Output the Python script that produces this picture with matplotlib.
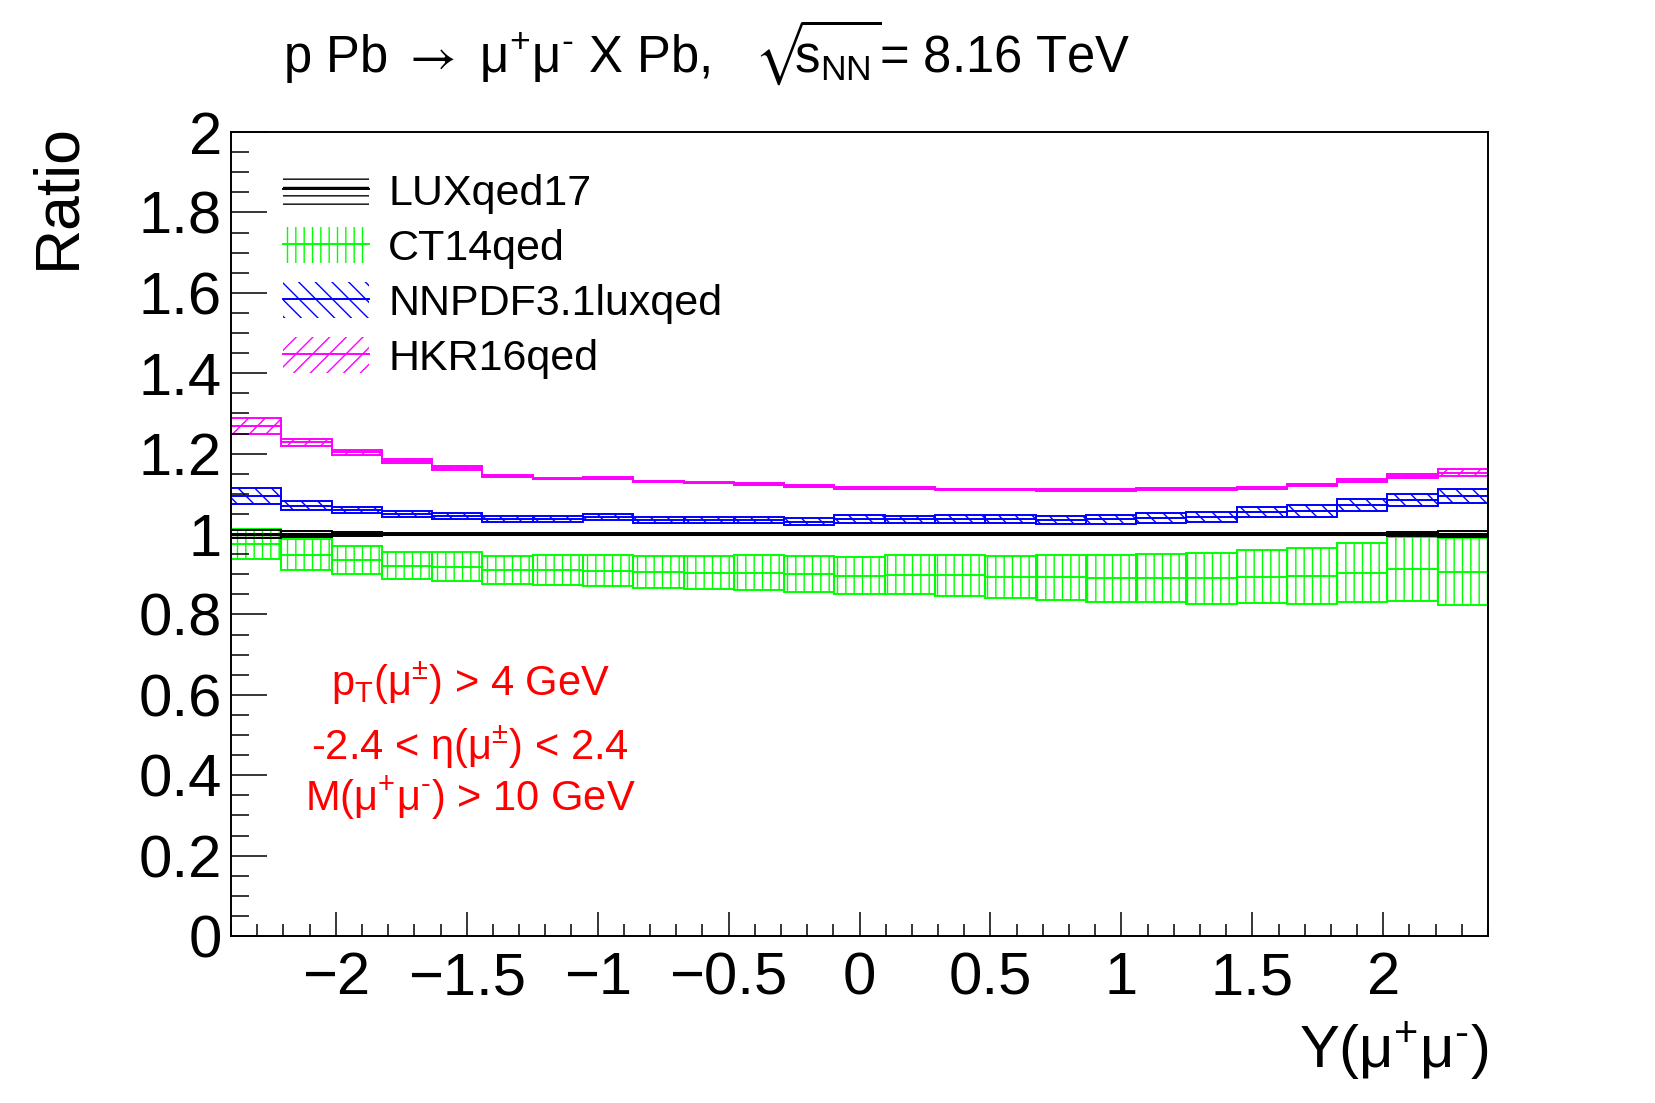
import numpy as np
import matplotlib
matplotlib.use("Agg")
from matplotlib import pyplot as plt
from matplotlib.patches import Patch
from matplotlib.lines import Line2D
from matplotlib.ticker import MultipleLocator, FuncFormatter

plt.rcParams["font.family"] = ["Liberation Sans", "DejaVu Sans"]
plt.rcParams["mathtext.fontset"] = "custom"
plt.rcParams["mathtext.rm"] = "Liberation Sans"
plt.rcParams["mathtext.it"] = "Liberation Sans:italic"
plt.rcParams["mathtext.bf"] = "Liberation Sans:bold"
plt.rcParams["mathtext.sf"] = "STIXGeneral"
plt.rcParams["mathtext.fallback"] = "stixsans"
plt.rcParams["hatch.linewidth"] = 1.0

# 25 rapidity bins between -2.4 and 2.4
edges = np.linspace(-2.4, 2.4, 26)

lux_ratio = [1.0] * 25
lux_err = [0.010, 0.0075, 0.0055, 0.0035, 0.002, 0.002, 0.002, 0.002, 0.002, 0.002,
           0.002, 0.002, 0.002, 0.002, 0.002, 0.002, 0.002, 0.002, 0.002, 0.002,
           0.002, 0.0025, 0.003, 0.004, 0.0075]

ct14_ratio = [0.975, 0.949, 0.935, 0.921, 0.919, 0.910, 0.910, 0.909, 0.905, 0.904,
              0.904, 0.901, 0.896, 0.899, 0.897, 0.894, 0.892, 0.890, 0.890, 0.890,
              0.894, 0.896, 0.904, 0.913, 0.906]
ct14_err = [0.037, 0.038, 0.035, 0.034, 0.036, 0.035, 0.037, 0.039, 0.040, 0.041,
            0.043, 0.045, 0.046, 0.049, 0.051, 0.052, 0.055, 0.058, 0.060, 0.063,
            0.066, 0.069, 0.073, 0.079, 0.083]

nnpdf_ratio = [1.095, 1.070, 1.060, 1.050, 1.044, 1.037, 1.037, 1.043, 1.035, 1.034,
               1.036, 1.031, 1.037, 1.037, 1.037, 1.037, 1.036, 1.037, 1.040, 1.043,
               1.054, 1.057, 1.072, 1.085, 1.095]
nnpdf_err = [0.0195, 0.011, 0.008, 0.008, 0.0075, 0.008, 0.0075, 0.007, 0.007, 0.0075,
             0.0075, 0.0095, 0.0095, 0.009, 0.0095, 0.0095, 0.010, 0.0115, 0.0115, 0.0125,
             0.0125, 0.015, 0.014, 0.015, 0.018]

hkr_ratio = [1.268, 1.228, 1.203, 1.181, 1.164, 1.144, 1.138, 1.139, 1.131, 1.128,
             1.124, 1.120, 1.115, 1.114, 1.111, 1.111, 1.109, 1.109, 1.112, 1.112,
             1.115, 1.122, 1.133, 1.144, 1.153]
hkr_err = [0.020, 0.0095, 0.006, 0.005, 0.005, 0.003, 0.002, 0.002, 0.002, 0.002,
           0.002, 0.002, 0.002, 0.002, 0.002, 0.002, 0.002, 0.002, 0.002, 0.002,
           0.002, 0.003, 0.004, 0.005, 0.008]

labels = ["LUXqed17", "CT14qed", "NNPDF3.1luxqed", "HKR16qed"]
colors = ["black", "#00ff00", "#0000ff", "#ff00ff"]
hatches = ["--", "||", "\\\\", "//"]

fig = plt.figure(figsize=(16.55, 11.03), dpi=100)
ax = fig.add_axes([0.1396, 0.1514, 0.7595, 0.7289])

centers = 0.5 * (edges[:-1] + edges[1:])
widths = np.diff(edges)


def draw_band(vals, errs, color, hatch, lw):
    vals = np.asarray(vals)
    errs = np.asarray(errs)
    ax.bar(centers, 2 * errs, bottom=vals - errs, width=widths, fill=False,
           edgecolor=color, hatch=hatch, linewidth=1.4)
    ax.stairs(vals, edges, baseline=None, color=color, linewidth=lw)


draw_band(ct14_ratio, ct14_err, colors[1], hatches[1], 1.4)
draw_band(lux_ratio, lux_err, colors[0], hatches[0], 2.2)
draw_band(nnpdf_ratio, nnpdf_err, colors[2], hatches[2], 1.4)
draw_band(hkr_ratio, hkr_err, colors[3], hatches[3], 1.4)

ax.set_xlim(-2.4, 2.4)
ax.set_ylim(0, 2)
ax.xaxis.set_major_locator(MultipleLocator(0.5))
ax.xaxis.set_minor_locator(MultipleLocator(0.1))
ax.yaxis.set_major_locator(MultipleLocator(0.2))
ax.yaxis.set_minor_locator(MultipleLocator(0.05))
fmt = FuncFormatter(lambda v, p: f"{round(v, 3) + 0:g}".replace("-", "\u2212"))
ax.xaxis.set_major_formatter(fmt)
ax.yaxis.set_major_formatter(fmt)
ax.tick_params(which="both", direction="in", top=False, right=False, width=1.1)
ax.tick_params(axis="x", which="major", length=17.3, pad=11, labelsize=43)
ax.tick_params(axis="x", which="minor", length=8.6)
ax.tick_params(axis="y", which="major", length=26, pad=6.5, labelsize=43)
ax.tick_params(axis="y", which="minor", length=13)
for s in ax.spines.values():
    s.set_linewidth(1.4)

ax.set_ylabel("Ratio", fontsize=45, loc="top")
ax.yaxis.set_label_coords(-0.125, 1.011)
ax.yaxis.label.set_va("baseline")
ax.set_xlabel("Y(μ$^{+}$μ$^{\\text{-}}$)", fontsize=43, loc="right")
ax.xaxis.set_label_coords(1.0, -0.164)
ax.xaxis.label.set_va("baseline")

handles = [(Patch(facecolor="none", edgecolor=c, hatch=h, linewidth=0),
            Line2D([], [], color=c, linewidth=1.4))
           for c, h in zip(colors, hatches)]
ax.legend(handles, labels, loc="upper left", bbox_to_anchor=(0.041, 0.950),
          frameon=False, fontsize=31, handlelength=2.0, handleheight=0.9,
          handletextpad=0.45, labelspacing=0.31, borderpad=0, borderaxespad=0)

cuts = ["p$_{\\mathrm{T}}$(μ$^{\\pm}$) > 4 GeV",
        "-2.4 < η(μ$^{\\pm}$) < 2.4",
        "M(μ$^{+}$μ$^{\\text{-}}$) > 10 GeV"]
cut_y = [0.596, 0.438, 0.311]
for s, y in zip(cuts, cut_y):
    ax.text(-1.487, y, s, color="red", fontsize=30, ha="center", va="baseline")

fig.text(283 / 1655, 1 - 72 / 1103,
         "p Pb $\\mathsf{\\rightarrow}$ μ$^{+}$μ$^{\\text{-}}$ X Pb,   "
         "$\\sqrt{\\!\\!\\mathrm{s}_{\\mathrm{NN}}}$= 8.16 TeV",
         fontsize=36.5, ha="left", va="baseline")

fig.savefig("out.png", dpi=100)
